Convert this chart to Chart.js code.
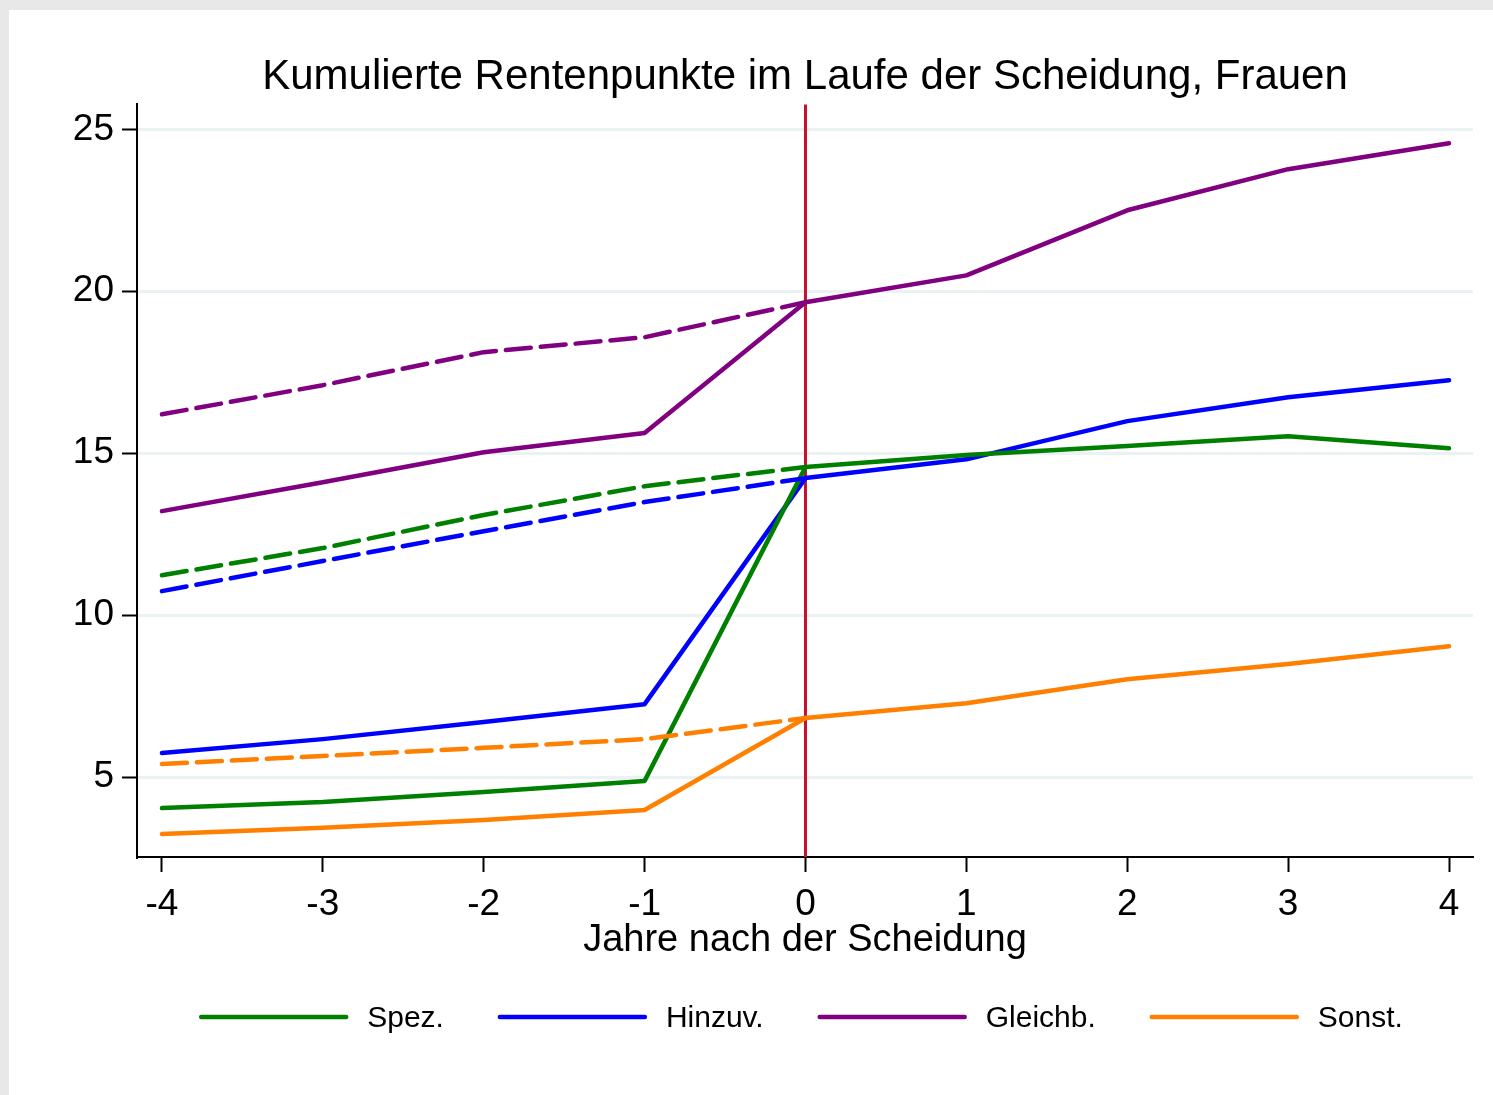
<!DOCTYPE html>
<html>
<head>
<meta charset="utf-8">
<script src="https://cdn.jsdelivr.net/npm/chart.js@4.4.1/dist/chart.umd.min.js"></script>
<style>
  html, body { margin: 0; padding: 0; background: #e8e8e8; }
  #frame { position: absolute; left: 9px; top: 10px; width: 1484px; height: 1085px; background: #ffffff; }
  canvas { display: block; }
</style>
</head>
<body>
<div id="frame"><canvas id="chart" width="1484" height="1085"></canvas></div>
<script>
// years relative to divorce
const years = [-4, -3, -2, -1, 0, 1, 2, 3, 4];
const yearsBefore = [-4, -3, -2, -1, 0];
const yTicks = [5, 10, 15, 20, 25];

// solid lines: observed
const spez = [4.04, 4.23, 4.54, 4.88, 14.57, 14.94, 15.22, 15.52, 15.15];
const hinzuv = [5.74, 6.17, 6.70, 7.25, 14.23, 14.81, 15.99, 16.73, 17.25];
const gleichb = [13.21, 14.10, 15.03, 15.62, 19.66, 20.49, 22.50, 23.77, 24.57];
const sonst = [3.24, 3.43, 3.67, 3.98, 6.82, 7.28, 8.02, 8.49, 9.04];

// dashed lines: before divorce
const spezPre = [11.23, 12.07, 13.09, 13.98, 14.57];
const hinzuvPre = [10.74, 11.67, 12.59, 13.49, 14.23];
const gleichbPre = [16.20, 17.10, 18.12, 18.58, 19.66];
const sonstPre = [5.40, 5.65, 5.90, 6.17, 6.82];

const labels = ["Spez.", "Hinzuv.", "Gleichb.", "Sonst."];
const colors = ["#008000", "#0000ff", "#800080", "#ff7f00"];

const FONT = "'Liberation Sans', Arial, Helvetica, sans-serif";

function pts(xs, ys) {
  return xs.map(function (x, i) { return { x: x, y: ys[i] }; });
}

const solid = [spez, hinzuv, gleichb, sonst];
const dashed = [spezPre, hinzuvPre, gleichbPre, sonstPre];

const datasets = [];
dashed.forEach(function (vals, i) {
  datasets.push({
    label: labels[i] + " (vorher)",
    data: pts(yearsBefore, vals),
    borderColor: colors[i],
    borderWidth: 4.5,
    borderDash: [25, 10],
    isLegend: false,
  });
});
solid.forEach(function (vals, i) {
  datasets.push({
    label: labels[i],
    data: pts(years, vals),
    borderColor: colors[i],
    borderWidth: 4.5,
    isLegend: true,
  });
});

// vertical reference line at year 0
const zeroLine = {
  id: "zeroLine",
  beforeDatasetsDraw: function (chart) {
    const x = chart.scales.x.getPixelForValue(0);
    const area = chart.chartArea;
    const ctx = chart.ctx;
    ctx.save();
    ctx.strokeStyle = "#c8102e";
    ctx.lineWidth = 3;
    ctx.beginPath();
    ctx.moveTo(x, area.top);
    ctx.lineTo(x, area.bottom);
    ctx.stroke();
    ctx.restore();
  },
};

// legend drawn as line samples + label, centered under the plot
const lineLegend = {
  id: "lineLegend",
  afterDraw: function (chart) {
    const ctx = chart.ctx;
    const area = chart.chartArea;
    const items = chart.data.datasets.filter(function (d) { return d.isLegend; });
    const lineLen = 145, gap = 21, spacing = 56, yMid = 1007;
    ctx.save();
    ctx.font = "30px " + FONT;
    const widths = items.map(function (d) { return ctx.measureText(d.label).width; });
    let total = 0;
    widths.forEach(function (w, i) { total += lineLen + gap + w + (i < widths.length - 1 ? spacing : 0); });
    let x = (area.left + area.right) / 2 - total / 2 - 3;
    items.forEach(function (d, i) {
      ctx.strokeStyle = d.borderColor;
      ctx.lineWidth = 4.5;
      ctx.lineCap = "round";
      ctx.beginPath();
      ctx.moveTo(x, yMid);
      ctx.lineTo(x + lineLen, yMid);
      ctx.stroke();
      ctx.fillStyle = "#000000";
      ctx.textBaseline = "middle";
      ctx.textAlign = "left";
      ctx.fillText(d.label, x + lineLen + gap, yMid + 2);
      x += lineLen + gap + widths[i] + spacing;
    });
    ctx.restore();
  },
};

new Chart(document.getElementById("chart").getContext("2d"), {
  type: "line",
  data: { datasets: datasets },
  plugins: [zeroLine, lineLegend],
  options: {
    responsive: false,
    animation: false,
    devicePixelRatio: 1,
    layout: { padding: { left: 0, right: 20, top: 0, bottom: 126 } },
    elements: {
      line: { tension: 0, borderCapStyle: "round", borderJoinStyle: "round", fill: false },
      point: { radius: 0, hoverRadius: 0 },
    },
    plugins: {
      legend: { display: false },
      tooltip: { enabled: false },
      title: {
        display: true,
        fullSize: false,
        text: "Kumulierte Rentenpunkte im Laufe der Scheidung, Frauen",
        color: "#000000",
        font: { family: FONT, size: 42, weight: "normal" },
        padding: { top: 42, bottom: 2 },
      },
    },
    scales: {
      x: {
        type: "linear",
        min: -4.155,
        max: 4.149,
        afterBuildTicks: function (scale) {
          scale.ticks = years.map(function (v) { return { value: v }; });
        },
        afterFit: function (scale) { scale.height = 112; },
        ticks: {
          color: "#000000",
          font: { family: FONT, size: 37 },
          padding: 11,
          maxRotation: 0,
          autoSkip: false,
        },
        grid: {
          drawOnChartArea: false,
          tickLength: 15,
          tickColor: "#000000",
          tickWidth: 2,
        },
        border: { color: "#000000", width: 2 },
        title: {
          display: true,
          text: "Jahre nach der Scheidung",
          color: "#000000",
          font: { family: FONT, size: 38 },
          padding: { top: 0, bottom: 6 },
        },
      },
      y: {
        min: 2.53,
        max: 25.77,
        afterBuildTicks: function (scale) {
          scale.ticks = yTicks.map(function (v) { return { value: v }; });
        },
        afterFit: function (scale) { scale.width = 128; },
        ticks: {
          color: "#000000",
          font: { family: FONT, size: 37 },
          padding: 8,
        },
        grid: {
          color: "#eaf2f3",
          lineWidth: 3,
          tickLength: 15,
          tickColor: "#000000",
          tickWidth: 2,
        },
        border: { color: "#000000", width: 2 },
      },
    },
  },
});
</script>
</body>
</html>
